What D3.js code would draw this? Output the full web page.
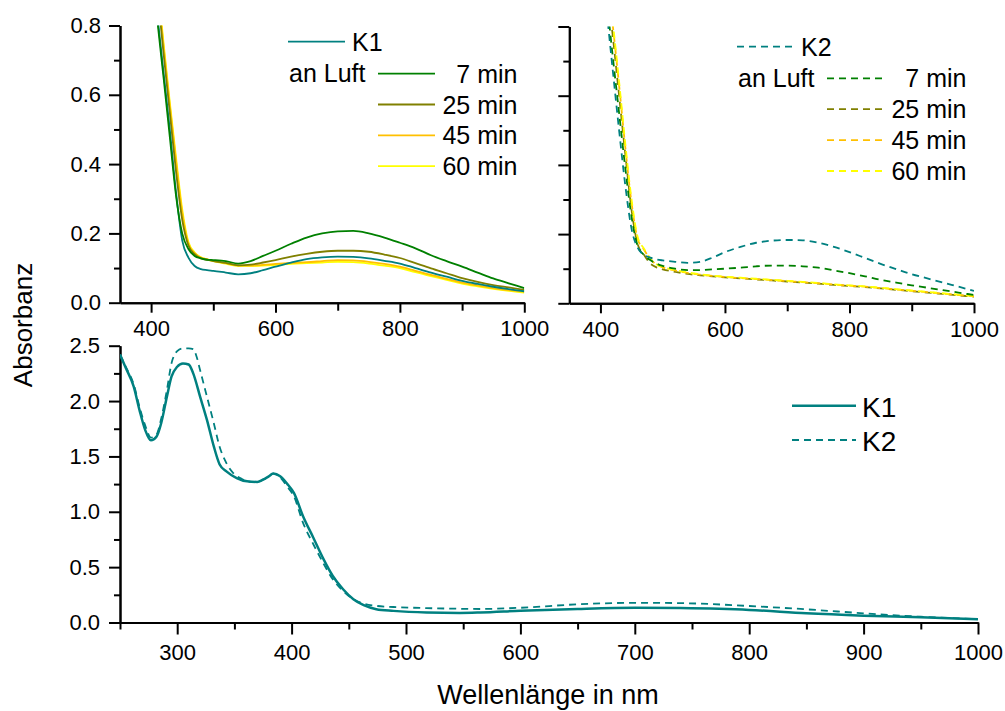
<!DOCTYPE html>
<html>
<head>
<meta charset="utf-8">
<script src="https://cdn.jsdelivr.net/npm/d3@7"></script>
<style>
  html, body { margin: 0; padding: 0; background: #fff; }
  svg { display: block; font-family: "Liberation Sans", Arial, sans-serif; }
</style>
</head>
<body>
<svg id="chart" width="1005" height="711"></svg>
<script>
// ---------------- DATA ----------------
// Top panels (wavelength in nm)
const wlTop = [400,410,420,430,440,450,460,470,480,490,500,520,540,560,580,600,625,650,675,700,725,750,775,800,825,850,875,900,925,950,975,1000];

// K1 (top-left, solid)
const k1Top    = [1.00,0.83,0.665,0.50,0.32,0.18,0.13,0.106,0.097,0.094,0.092,0.087,0.082,0.085,0.094,0.104,0.116,0.126,0.131,0.133,0.132,0.128,0.121,0.113,0.100,0.087,0.075,0.063,0.054,0.046,0.039,0.033];
const k1Min7   = [1.00,0.815,0.65,0.48,0.31,0.20,0.155,0.135,0.128,0.124,0.123,0.120,0.113,0.120,0.135,0.150,0.170,0.188,0.200,0.206,0.207,0.200,0.188,0.173,0.157,0.137,0.120,0.104,0.087,0.070,0.056,0.042];
const k1Min25  = [1.10,0.90,0.72,0.55,0.38,0.24,0.165,0.140,0.128,0.124,0.120,0.115,0.108,0.110,0.116,0.123,0.133,0.141,0.147,0.150,0.150,0.147,0.139,0.129,0.114,0.099,0.085,0.071,0.060,0.051,0.044,0.037];
const k1Min45  = [1.12,0.92,0.74,0.57,0.41,0.26,0.170,0.143,0.130,0.125,0.121,0.114,0.107,0.107,0.109,0.112,0.115,0.117,0.120,0.123,0.122,0.118,0.112,0.104,0.092,0.080,0.069,0.058,0.050,0.042,0.036,0.032];
const k1Min60  = [1.13,0.93,0.75,0.58,0.42,0.27,0.175,0.145,0.131,0.125,0.120,0.113,0.106,0.106,0.107,0.109,0.112,0.114,0.116,0.118,0.117,0.113,0.107,0.100,0.088,0.077,0.066,0.055,0.047,0.040,0.034,0.029];

// K2 (top-right, dashed)
const k2Top    = [1.02,0.845,0.67,0.50,0.34,0.215,0.16,0.140,0.132,0.127,0.124,0.120,0.117,0.120,0.132,0.148,0.163,0.175,0.181,0.183,0.182,0.175,0.163,0.148,0.131,0.114,0.099,0.084,0.072,0.060,0.048,0.036];
const k2Min7   = [1.05,0.88,0.71,0.55,0.39,0.25,0.165,0.140,0.125,0.115,0.108,0.100,0.096,0.096,0.098,0.100,0.103,0.107,0.109,0.109,0.107,0.103,0.095,0.087,0.078,0.068,0.060,0.052,0.045,0.038,0.031,0.024];
const k2Min25  = [1.10,0.93,0.77,0.60,0.43,0.27,0.170,0.140,0.115,0.104,0.098,0.091,0.085,0.081,0.078,0.075,0.072,0.069,0.066,0.063,0.060,0.057,0.053,0.050,0.047,0.043,0.039,0.035,0.031,0.027,0.023,0.019];
const k2Min45  = [1.12,0.96,0.80,0.63,0.45,0.29,0.185,0.155,0.128,0.112,0.104,0.095,0.088,0.083,0.079,0.076,0.073,0.070,0.067,0.064,0.061,0.058,0.054,0.051,0.048,0.044,0.040,0.036,0.032,0.028,0.024,0.020];
const k2Min60  = [1.13,0.97,0.81,0.64,0.46,0.30,0.190,0.158,0.130,0.113,0.105,0.096,0.089,0.084,0.080,0.077,0.074,0.071,0.068,0.065,0.062,0.059,0.055,0.052,0.049,0.045,0.041,0.037,0.033,0.029,0.025,0.021];

// Bottom panel
const wlB1 = [250,255,262,267,272,277,282,286,291,295,300,305,310,314,320,326,332,337,343,352,361,370,375,380,384,390,396,402,410,419,428,436,445,454,463,474,489,518,547,565,600,650,700,740,800,850,900,950,1000];
const k1B  = [2.42,2.30,2.13,1.92,1.74,1.645,1.68,1.80,2.04,2.22,2.31,2.34,2.33,2.25,2.04,1.83,1.59,1.43,1.365,1.305,1.275,1.27,1.29,1.32,1.345,1.32,1.254,1.17,0.96,0.766,0.57,0.42,0.30,0.21,0.156,0.12,0.105,0.09,0.086,0.09,0.106,0.123,0.133,0.13,0.114,0.083,0.062,0.047,0.029];
const wlB2 = [250,255,262,267,272,277,282,286,291,295,300,305,310,314,317,320,326,332,337,343,349,356,364,370,375,380,384,390,396,402,410,419,428,436,445,454,463,474,489,518,547,565,600,650,700,740,800,850,900,950,1000];
const k2B  = [2.42,2.31,2.15,1.95,1.78,1.67,1.70,1.84,2.10,2.34,2.45,2.476,2.476,2.47,2.40,2.28,2.04,1.80,1.59,1.44,1.35,1.30,1.27,1.27,1.29,1.32,1.345,1.31,1.23,1.14,0.90,0.707,0.53,0.39,0.285,0.21,0.17,0.15,0.14,0.13,0.124,0.122,0.133,0.164,0.178,0.175,0.149,0.119,0.083,0.052,0.031];

// Series labels & colours
const timeLabels = ["7 min","25 min","45 min","60 min"];
const timeColors = ["#008000","#808000","#FFC000","#FFFF00"];
const teal = "#008080";

// Tick values
const topXMajor = [400,600,800,1000], topXMinor = [500,700,900];
const topYMajor = [0,0.2,0.4,0.6,0.8], topYMinor = [0.1,0.3,0.5,0.7];
const botXMajor = [300,400,500,600,700,800,900,1000], botXMinor = [250,350,450,550,650,750,850,950];
const botYMajor = [0,0.5,1.0,1.5,2.0,2.5], botYMinor = [0.25,0.75,1.25,1.75,2.25];

// ---------------- DRAWING ----------------
const svg = d3.select("#chart");
const FONT_TICK = 22;

function zip(xs, ys) { return xs.map((x, i) => ({x, y: ys[i]})); }

function makePanel(id, xr, yr, xdom, ydom, opts) {
  const x = d3.scaleLinear().domain(xdom).range(xr);
  const y = d3.scaleLinear().domain(ydom).range(yr);
  const g = svg.append("g");
  svg.append("clipPath").attr("id", id).append("rect")
    .attr("x", xr[0]).attr("y", yr[1]).attr("width", xr[1]-xr[0]).attr("height", yr[0]-yr[1]);

  // x axis
  const xa = d3.axisBottom(x).tickValues(opts.xMajor).tickSize(opts.xMajSize).tickSizeOuter(0).tickPadding(opts.xPad).tickFormat(d3.format("d"));
  const xm = d3.axisBottom(x).tickValues(opts.xMinor).tickSize(opts.xMinSize).tickSizeOuter(0).tickFormat("");
  const gx = g.append("g").attr("transform", `translate(0,${yr[0]})`).call(xa);
  const gxm = g.append("g").attr("transform", `translate(0,${yr[0]})`).call(xm);
  // y axis
  const ya = d3.axisLeft(y).tickValues(opts.yMajor).tickSize(11).tickSizeOuter(0).tickPadding(opts.yPad)
      .tickFormat(opts.yLabels ? d3.format(".1f") : "");
  const ym = d3.axisLeft(y).tickValues(opts.yMinor).tickSize(6).tickSizeOuter(0).tickFormat("");
  const gy = g.append("g").attr("transform", `translate(${xr[0]},0)`).call(ya);
  const gym = g.append("g").attr("transform", `translate(${xr[0]},0)`).call(ym);
  [gx,gxm,gy,gym].forEach(a => {
    a.selectAll("path.domain").attr("stroke","#000").attr("stroke-width",2);
    a.selectAll(".tick line").attr("stroke","#000").attr("stroke-width",2);
    a.selectAll("text").attr("font-size",FONT_TICK).attr("fill","#000").attr("font-family","'Liberation Sans', Arial, sans-serif");
  });
  return {x, y, id};
}

function drawLine(p, xs, ys, color, width, dashed) {
  const line = d3.line().x(d => p.x(d.x)).y(d => p.y(d.y)).curve(d3.curveMonotoneX);
  svg.append("path").datum(zip(xs, ys))
    .attr("clip-path", `url(#${p.id})`)
    .attr("d", line).attr("fill","none")
    .attr("stroke", color).attr("stroke-width", width)
    .attr("stroke-linejoin","round")
    .attr("stroke-dasharray", dashed ? "7,5" : null);
}

// Top-left panel
const pTL = makePanel("clipTL", [120, 524.3], [302.7, 25.5], [350, 1000], [0, 0.8],
  {xMajor: topXMajor, xMinor: topXMinor, xMajSize: 10, xMinSize: 8, xPad: 8,
   yMajor: topYMajor, yMinor: topYMinor, yPad: 8, yLabels: true});
// Top-right panel
const pTR = makePanel("clipTR", [569.3, 974], [303.3, 26.5], [350, 1000], [0, 0.8],
  {xMajor: topXMajor, xMinor: topXMinor, xMajSize: 10, xMinSize: 8, xPad: 8,
   yMajor: topYMajor, yMinor: topYMinor, yPad: 8, yLabels: false});
// Bottom panel
const pB = makePanel("clipB", [120, 978], [622.5, 345.7], [250, 1000], [0, 2.5],
  {xMajor: botXMajor, xMinor: botXMinor, xMajSize: 12, xMinSize: 7, xPad: 10,
   yMajor: botYMajor, yMinor: botYMinor, yPad: 9, yLabels: true});

// Top-left curves
const tlSeries = [k1Min60, k1Min45, k1Min25, k1Top, k1Min7];
const tlColors = [timeColors[3], timeColors[2], timeColors[1], teal, timeColors[0]];
tlSeries.forEach((s, i) => drawLine(pTL, wlTop, s, tlColors[i], 1.8, false));

// Top-right curves
const trSeries = [k2Min25, k2Min45, k2Min60, k2Min7, k2Top];
const trColors = [timeColors[1], timeColors[2], timeColors[3], timeColors[0], teal];
trSeries.forEach((s, i) => drawLine(pTR, wlTop, s, trColors[i], 1.8, true));

// Bottom curves
drawLine(pB, wlB2, k2B, teal, 1.8, true);
drawLine(pB, wlB1, k1B, teal, 2.5, false);

// ---------------- LEGENDS ----------------
function legendLine(x1, x2, y, color, width, dashed) {
  svg.append("line").attr("x1", x1).attr("x2", x2).attr("y1", y).attr("y2", y)
    .attr("stroke", color).attr("stroke-width", width)
    .attr("stroke-dasharray", dashed ? "7,5" : null);
}
function legendText(x, y, txt, size, anchor) {
  svg.append("text").attr("x", x).attr("y", y).attr("font-size", size)
    .attr("text-anchor", anchor || "start").attr("fill", "#000").text(txt);
}

// Top-left legend
legendLine(288, 345, 41.7, teal, 1.8, false);
legendText(352, 51, "K1", 25);
legendText(289, 82.3, "an Luft", 25);
timeLabels.forEach((t, i) => {
  const yy = 73.7 + i * 30.8;
  legendLine(378, 435, yy, timeColors[i], 1.8, false);
  legendText(517.5, yy + 9, t, 25, "end");
});

// Top-right legend
legendLine(737, 794, 46.7, teal, 1.8, true);
legendText(801, 56, "K2", 25);
legendText(738, 86.7, "an Luft", 25);
timeLabels.forEach((t, i) => {
  const yy = 78.3 + i * 30.9;
  legendLine(827, 884, yy, timeColors[i], 1.8, true);
  legendText(966.5, yy + 9, t, 25, "end");
});

// Bottom legend
legendLine(792, 856, 405.7, teal, 2.5, false);
legendText(862, 416.5, "K1", 28);
legendLine(792, 856, 440, teal, 1.8, true);
legendText(862, 450.5, "K2", 28);

// ---------------- AXIS TITLES ----------------
svg.append("text").attr("transform", "translate(32,325) rotate(-90)")
  .attr("text-anchor","middle").attr("font-size", 26).attr("fill","#000").text("Absorbanz");
svg.append("text").attr("x", 548).attr("y", 704)
  .attr("text-anchor","middle").attr("font-size", 27).attr("fill","#000").text("Wellenlänge in nm");
</script>
</body>
</html>
